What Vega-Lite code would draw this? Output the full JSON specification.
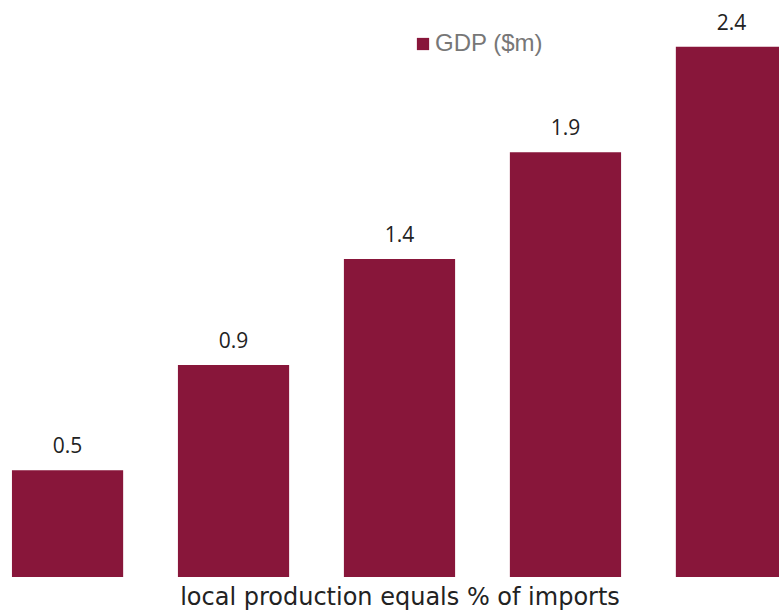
{
  "$schema": "https://vega.github.io/schema/vega-lite/v6.json",
  "width": 799,
  "height": 577,
  "autosize": {"type": "none"},
  "padding": {"left": 0, "top": 0, "right": 0, "bottom": 39},
  "background": "white",
  "config": {"view": {"stroke": null}, "font": "Open Sans"},
  "data": {"values": [
    {"category": "A", "value": 0.483, "label": "0.5", "series": "GDP ($m)"},
    {"category": "B", "value": 0.959, "label": "0.9", "series": "GDP ($m)"},
    {"category": "C", "value": 1.439, "label": "1.4", "series": "GDP ($m)"},
    {"category": "D", "value": 1.922, "label": "1.9", "series": "GDP ($m)"},
    {"category": "E", "value": 2.4, "label": "2.4", "series": "GDP ($m)"}
  ]},
  "encoding": {
    "x": {
      "field": "category", "type": "nominal", "sort": null,
      "scale": {"paddingInner": 0.33, "paddingOuter": 0.072},
      "axis": {"title": "local production equals % of imports", "labels": false, "ticks": false, "domain": false,
               "titleFontSize": 24, "titleFontWeight": "normal", "titleColor": "#222222", "titlePadding": 8, "titleFont": "DejaVu Sans"}
    },
    "y": {
      "field": "value", "type": "quantitative",
      "scale": {"domain": [0, 2.611], "nice": false},
      "axis": null
    }
  },
  "layer": [
    {
      "mark": {"type": "bar", "stroke": null},
      "encoding": {
        "color": {
          "field": "series", "type": "nominal",
          "scale": {"range": ["#88163A"]},
          "legend": {"title": null, "orient": "none", "legendX": 411, "legendY": 32, "labelFontSize": 24, "labelColor": "#777777",
                     "symbolType": "square", "symbolSize": 150, "symbolStrokeWidth": 0, "labelFont": "Liberation Sans", "labelOffset": 0}
        }
      }
    },
    {
      "mark": {"type": "text", "baseline": "alphabetic", "dy": -17, "fontSize": 21, "color": "#222222", "font": "Open Sans"},
      "encoding": {"text": {"field": "label"}}
    }
  ]
}
